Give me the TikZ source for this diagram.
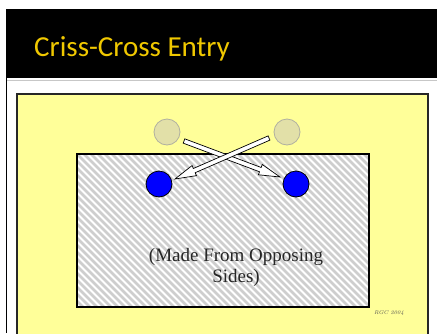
\documentclass[tikz,border=0pt]{standalone}
\usepackage{fontspec}
\newfontfamily\titlefont{Carlito}
\newfontfamily\captionfont{Liberation Serif}
\usetikzlibrary{calc}
\definecolor{titlegold}{RGB}{240,200,0}
\definecolor{padyellow}{RGB}{255,255,153}
\definecolor{hatchgray}{RGB}{206,206,206}
\definecolor{ghostfill}{RGB}{226,224,168}
\definecolor{ghostedge}{RGB}{176,176,160}
\definecolor{playerblue}{RGB}{0,0,255}
% white block arrow with black outline from #1 to the tip #2
\newcommand\blockarrow[2]{%
  \coordinate (#1-#2-h) at ($(#2)!21pt!(#1)$);
  \draw[arrowbody] ($(#1)!2.3pt!90:(#2)$) -- ($(#1-#2-h)!2.3pt!90:(#2)$)
    -- ($(#1-#2-h)!5.5pt!90:(#2)$) -- (#2) -- ($(#1-#2-h)!5.5pt!-90:(#2)$)
    -- ($(#1-#2-h)!2.3pt!-90:(#2)$) -- ($(#1)!2.3pt!-90:(#2)$) -- cycle;}
\tikzset{
  ghost/.style={circle, minimum size=26pt, inner sep=0pt, fill=ghostfill, draw=ghostedge, line width=0.8pt},
  player/.style={circle, minimum size=26pt, inner sep=0pt, fill=playerblue, draw=black, line width=0.8pt},
  arrowbody/.style={fill=white, draw=black, line width=0.7pt, line join=miter},
  hatchline/.style={hatchgray, line width=2.5pt},
}
\begin{document}
\begin{tikzpicture}[x=1pt,y=-1pt]
\useasboundingbox (0,0) rectangle (437,333);
\fill[white] (0,0) rectangle (437,333);
% title bar
\fill[black] (6,9) rectangle (437,78);
\node[anchor=base west, text=titlegold, font=\titlefont\fontsize{29}{34}\selectfont, inner sep=0pt] (title) at (34,56) {Criss-Cross Entry};
\draw[black!22, line width=1pt] (6,80) -- (437,80);
\draw[black, line width=1.5pt] (6.5,78) -- (6.5,333);
% yellow pad
\draw[fill=padyellow, draw=black!85, line width=1.6pt] (17,94) rectangle (428,345);
% hatched field: diagonal grey stripes on white
\fill[white] (77,154) rectangle (369,307);
\begin{scope}
  \clip (77,154) rectangle (369,307);
  \foreach \k in {-161,-154,...,371}
    \draw[hatchline] (77+\k,154) -- ++(160,160);
\end{scope}
\draw[black, line width=1.1pt] (77,154) rectangle (369,307);
\node[font=\captionfont\fontsize{19}{21}\selectfont, text=black!85, align=center, inner sep=0pt] (caption) at (236,267) {(Made From Opposing\\Sides)};
\node[font=\itshape\fontsize{5.5}{6}\selectfont, text=black!70, inner sep=0pt] (credit) at (389,313) {RGC 2004};
% players
\node[ghost] (ghostL) at (167,132) {};
\node[ghost] (ghostR) at (287,132) {};
\node[player] (blueL) at (159,184) {};
\node[player] (blueR) at (296,184) {};
\coordinate (fromL) at (184,141);
\coordinate (toR) at (280,177);
\coordinate (fromR) at (269,138);
\coordinate (toL) at (175,179);
\blockarrow{fromL}{toR}
\blockarrow{fromR}{toL}
\end{tikzpicture}
\end{document}
